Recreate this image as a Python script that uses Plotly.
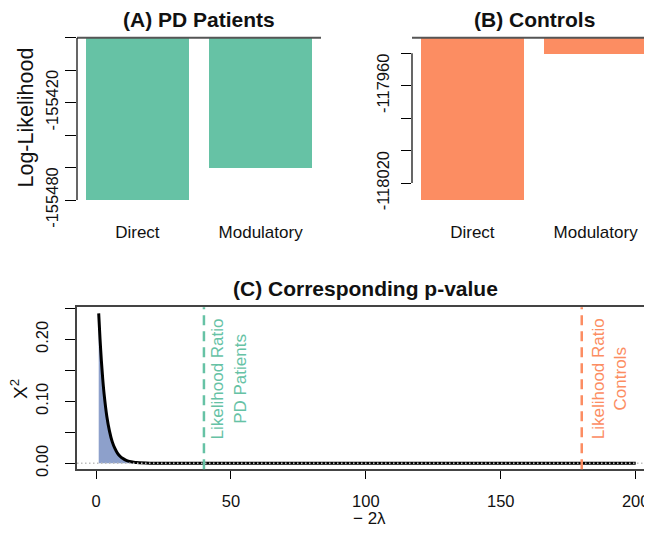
import plotly.graph_objects as go

# ---------------- data ----------------
categories = ["Direct", "Modulatory"]
loglik_pd = [-155480, -155460]
loglik_controls = [-118030, -117940]

pd_tickvals = [-155480, -155460, -155440, -155420, -155400, -155380]
pd_ticktext = ["-155480", " ", " ", "-155420", " ", " "]
ctrl_tickvals = [-118020, -118000, -117980, -117960, -117940]
ctrl_ticktext = ["-118020", " ", " ", "-117960", " "]

# chi-square density curve
chi_x = [1, 1.5, 2, 2.5, 3, 4, 5, 6, 7, 8, 9, 10, 11, 12, 13, 14, 15, 20, 30, 50, 100, 150, 200]
chi_y = [0.242, 0.200, 0.165, 0.136, 0.112, 0.076, 0.052, 0.035, 0.024, 0.016, 0.011,
         0.0076, 0.0051, 0.0035, 0.0024, 0.0016, 0.0011, 0.0002, 0.0, 0.0, 0.0, 0.0, 0.0]
shade_until = 14

c_xtickvals = [0, 50, 100, 150, 200]
c_ytickvals = [0, 0.05, 0.10, 0.15, 0.20, 0.25]
c_yticktext = ["0.00", " ", "0.10", " ", "0.20", " "]

lr_pd = 2 * (loglik_pd[1] - loglik_pd[0])
lr_controls = 2 * (loglik_controls[1] - loglik_controls[0])

# ---------------- style ----------------
W, H = 652, 533
OFF = 8  # page body offset of the figure
GREEN = "#66C2A5"
ORANGE = "#FC8D62"
BLUE = "#8DA0CB"
FONT = "Liberation Sans, Arial, sans-serif"


def px_x(p):
    return (p - OFF) / W


def px_y(p):
    return 1 - (p - OFF) / H


fig = go.Figure()

fig.add_trace(go.Bar(x=categories, y=loglik_pd, marker=dict(color=GREEN, line=dict(width=0)),
                     width=1 / 1.2, xaxis="x", yaxis="y", showlegend=False))
fig.add_trace(go.Bar(x=categories, y=loglik_controls, marker=dict(color=ORANGE, line=dict(width=0)),
                     width=1 / 1.2, xaxis="x2", yaxis="y2", showlegend=False))

shade_x = [v for v in chi_x if v <= shade_until]
shade_y = chi_y[:len(shade_x)]
fig.add_trace(go.Scatter(x=shade_x, y=shade_y, mode="lines", fill="tozeroy", fillcolor=BLUE,
                         line=dict(width=0, color=BLUE, shape="spline"),
                         xaxis="x3", yaxis="y3", showlegend=False, hoverinfo="skip"))
fig.add_trace(go.Scatter(x=chi_x, y=chi_y, mode="lines",
                         line=dict(width=3, color="black", shape="spline", smoothing=0.6),
                         xaxis="x3", yaxis="y3", showlegend=False))

tickfont = dict(family=FONT, size=16.5, color="#111")

fig.update_layout(
    template="none",
    width=W, height=H,
    margin=dict(l=0, r=0, t=0, b=0, pad=0),
    paper_bgcolor="white", plot_bgcolor="white",
    font=dict(family=FONT, color="#111"),
    showlegend=False,
    bargap=0,
    xaxis=dict(domain=[px_x(77), px_x(321)], range=[-0.49, 1.49], anchor="y", automargin=False,
               showgrid=False, zeroline=False, showline=False, ticks="",
               tickfont=dict(family=FONT, size=17, color="#111"), ticklabelstandoff=20),
    yaxis=dict(domain=[px_y(200), px_y(37.7)], range=[-155480, -155380], anchor="x", automargin=False,
               showgrid=False, zeroline=False, showline=False,
               tickvals=pd_tickvals, ticktext=pd_ticktext, ticks="outside", ticklen=11,
               tickcolor="black", tickwidth=1.2, tickangle=-90, tickfont=tickfont),
    xaxis2=dict(domain=[px_x(412), px_x(656)], range=[-0.49, 1.49], anchor="y2", automargin=False,
                showgrid=False, zeroline=False, showline=False, ticks="",
                tickfont=dict(family=FONT, size=17, color="#111"), ticklabelstandoff=20),
    yaxis2=dict(domain=[px_y(200), px_y(37.7)], range=[-118030.4, -117930.4], anchor="x2",
                automargin=False, showgrid=False, zeroline=False, showline=False,
                tickvals=ctrl_tickvals, ticktext=ctrl_ticktext, ticks="outside", ticklen=10,
                tickcolor="black", tickwidth=1.2, tickangle=-90, tickfont=tickfont,
                ticklabelstandoff=5),
    xaxis3=dict(domain=[px_x(77), 1], range=[-7.04, 209.0], anchor="y3", automargin=False,
                showgrid=False, zeroline=False, showline=True, mirror=True,
                linecolor="#444", linewidth=1.5,
                tickvals=c_xtickvals, ticks="outside", ticklen=8, tickcolor="black",
                tickwidth=1.2, tickfont=tickfont, ticklabelstandoff=8),
    yaxis3=dict(domain=[px_y(469.3), px_y(307.3)], range=[-0.00968, 0.2517], anchor="x3",
                automargin=False, showgrid=False, zeroline=False, showline=True,
                linecolor="#444", linewidth=1.5,
                tickvals=c_ytickvals, ticktext=c_yticktext, ticks="outside", ticklen=10,
                tickcolor="black", tickwidth=1.2, tickangle=-90, tickfont=tickfont,
                ticklabelstandoff=11),
)

shapes = [
    # panel A top line and axis line
    dict(type="line", xref="x domain", yref="y domain", x0=0, x1=1, y0=1, y1=1,
         line=dict(color="#555", width=2)),
    dict(type="line", xref="x domain", yref="y", x0=0, x1=0,
         y0=pd_tickvals[0], y1=pd_tickvals[-1], line=dict(color="black", width=1.2)),
    # panel B top line and axis line
    dict(type="line", xref="x2 domain", yref="y2 domain", x0=0, x1=1, y0=1, y1=1,
         line=dict(color="#555", width=2)),
    dict(type="line", xref="x2 domain", yref="y2", x0=0, x1=0,
         y0=ctrl_tickvals[0], y1=ctrl_tickvals[-1], line=dict(color="black", width=1.2)),
    # panel C zero reference line
    dict(type="line", xref="x3 domain", yref="y3", x0=0, x1=1, y0=0, y1=0,
         line=dict(color="#BEBEBE", width=1.5, dash="1.5px,2.5px"), layer="above"),
    # likelihood ratio lines
    dict(type="line", xref="x3", yref="y3 domain", x0=lr_pd, x1=lr_pd, y0=0, y1=1,
         line=dict(color=GREEN, width=2.5, dash="10px,6px"), layer="above"),
    dict(type="line", xref="x3", yref="y3 domain", x0=lr_controls, x1=lr_controls, y0=0, y1=1,
         line=dict(color=ORANGE, width=2.5, dash="10px,6px"), layer="above"),
]
fig.update_layout(shapes=shapes)

annotations = [
    dict(text="<b>(A) PD Patients</b>", xref="paper", yref="paper", x=px_x(198.5), y=px_y(19),
         showarrow=False, xanchor="center", yanchor="middle", font=dict(size=21, family=FONT, color="#111")),
    dict(text="<b>(B) Controls</b>", xref="paper", yref="paper", x=px_x(534.7), y=px_y(19),
         showarrow=False, xanchor="center", yanchor="middle", font=dict(size=21, family=FONT, color="#111")),
    dict(text="<b>(C) Corresponding p-value</b>", xref="paper", yref="paper", x=px_x(365.8), y=px_y(288),
         showarrow=False, xanchor="center", yanchor="middle", font=dict(size=21, family=FONT, color="#111")),
    dict(text="Log-Likelihood", xref="paper", yref="paper", x=px_x(25), y=px_y(117.5),
         showarrow=False, textangle=-90, xanchor="center", yanchor="middle",
         font=dict(size=21.5, family=FONT, color="#111")),
    dict(text="X<sup>2</sup>", xref="paper", yref="paper", x=px_x(19), y=px_y(389),
         showarrow=False, textangle=-90, xanchor="center", yanchor="middle",
         font=dict(size=19, family=FONT, color="#111")),
    dict(text="\u2212 2\u03bb", xref="paper", yref="paper", x=px_x(369), y=px_y(519),
         showarrow=False, xanchor="center", yanchor="middle",
         font=dict(size=17, family=FONT, color="#111")),
    dict(text="Likelihood Ratio<br>PD Patients", xref="x3", yref="y3", x=lr_pd, y=0.136,
         xshift=24.5, showarrow=False, textangle=-90, xanchor="center", yanchor="middle",
         font=dict(size=17, family=FONT, color=GREEN)),
    dict(text="Likelihood Ratio<br>Controls", xref="x3", yref="y3", x=lr_controls, y=0.136,
         xshift=27.5, showarrow=False, textangle=-90, xanchor="center", yanchor="middle",
         font=dict(size=17, family=FONT, color=ORANGE)),
]
fig.update_layout(annotations=annotations)

fig.write_html("out.html")
